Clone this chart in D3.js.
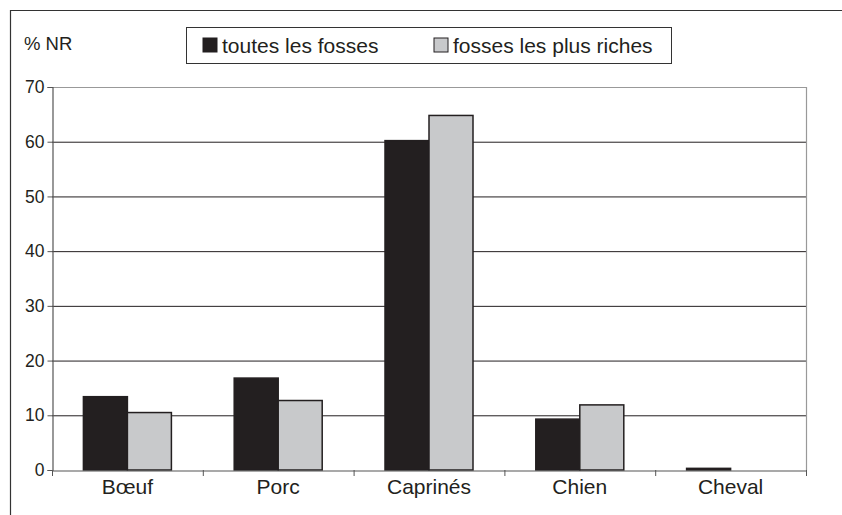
<!DOCTYPE html>
<html><head><meta charset="utf-8">
<script src="https://cdn.jsdelivr.net/npm/d3@7"></script>
<style>body{margin:0;background:#fff}svg{display:block}text{font-family:"Liberation Sans",Arial,sans-serif;fill:#231f20}</style>
</head><body>
<script>
const categories = ["Bœuf", "Porc", "Caprinés", "Chien", "Cheval"];
const seriesNames = ["toutes les fosses", "fosses les plus riches"];
const toutes = [13.4, 16.8, 60.2, 9.3, 0.3];
const riches = [10.5, 12.7, 64.8, 11.9, 0];
const yTicks = [0, 10, 20, 30, 40, 50, 60, 70];
const colors = ["#231f20", "#c8c9cb"];

const W = 842, H = 515;
const svg = d3.select("body").append("svg").attr("width", W).attr("height", H);
// outer frame (top and left visible)
svg.append("path").attr("d", "M10.5,515 V10.5 H842").attr("fill", "none").attr("stroke", "#333").attr("stroke-width", 1.2);

const L = 52, R = 806, T = 87, B = 470;
const x = d3.scaleBand().domain(categories).range([L, R]);
const y = d3.scaleLinear().domain([0, 70]).range([B, T]);
const inner = d3.scaleBand().domain([0, 1]).range([0, 88]);

// gridlines
svg.append("g").selectAll("line").data(yTicks.filter(d => d > 0 && d < 70)).join("line")
  .attr("x1", L).attr("x2", R).attr("y1", d => y(d) + 0.5).attr("y2", d => y(d) + 0.5)
  .attr("stroke", "#231f20").attr("stroke-width", 1);
// plot border (top, right)
svg.append("path").attr("d", `M${L},${y(70)+0.5} H${R+0.5} V${B}`).attr("fill", "none").attr("stroke", "#999").attr("stroke-width", 1.2);

// bars
const data = categories.map((c, i) => [toutes[i], riches[i]]);
const groups = svg.append("g").selectAll("g").data(data).join("g")
  .attr("transform", (d, i) => `translate(${x(categories[i]) + (x.bandwidth() - 88) / 2},0)`);
groups.selectAll("rect").data(d => d.map((v, j) => ({v, j})).filter(o => o.v > 0)).join("rect")
  .attr("x", o => inner(o.j)).attr("width", inner.bandwidth())
  .attr("y", o => y(o.v)).attr("height", o => B - y(o.v))
  .attr("fill", o => colors[o.j]).attr("stroke", "#231f20").attr("stroke-width", 1.5);

// y axis
const yAxis = d3.axisLeft(y).tickValues(yTicks).tickSize(5).tickPadding(3);
const gy = svg.append("g").attr("transform", `translate(${L + 0.5},0)`).call(yAxis)
  .attr("font-size", null).attr("font-family", null);
gy.select(".domain").attr("stroke", "#555").attr("stroke-width", 1.2);
gy.selectAll(".tick line").attr("stroke", "#555");
gy.selectAll("text").style("font-size", "17.5px").style("font-family", '"Liberation Sans",Arial,sans-serif').attr("fill", "#231f20");

// x axis
const xAxis = d3.axisBottom(x).tickSize(0).tickPadding(9);
const gx = svg.append("g").attr("transform", `translate(0,${B + 0.5})`).call(xAxis)
  .attr("font-size", null).attr("font-family", null);
gx.select(".domain").attr("stroke", "#555").attr("stroke-width", 1.2);
gx.selectAll("text").style("font-size", "21px").style("font-family", '"Liberation Sans",Arial,sans-serif').attr("fill", "#231f20");
const bounds = categories.map(c => x(c)).concat([R]);
svg.append("g").selectAll("line").data(bounds).join("line")
  .attr("x1", d => d + 0.5).attr("x2", d => d + 0.5).attr("y1", B).attr("y2", B + 6)
  .attr("stroke", "#555");

// y title
svg.append("text").attr("x", 24).attr("y", 50).style("font-size", "18.5px").text("% NR");

// legend
svg.append("rect").attr("x", 186.5).attr("y", 27.5).attr("width", 485).attr("height", 36)
  .attr("fill", "#fff").attr("stroke", "#333").attr("stroke-width", 1);
const legX = [203, 434];
seriesNames.forEach((s, i) => {
  svg.append("rect").attr("x", legX[i]).attr("y", 38).attr("width", 14).attr("height", 14)
    .attr("fill", colors[i]).attr("stroke", "#231f20").attr("stroke-width", 1);
  svg.append("text").attr("x", legX[i] + 19).attr("y", 52.5).style("font-size", "21px").text(s);
});
</script>
</body></html>
